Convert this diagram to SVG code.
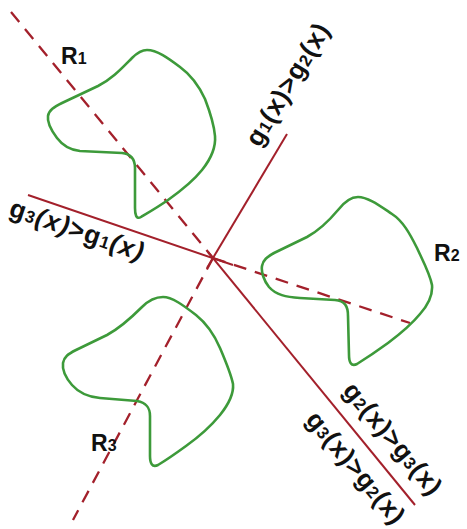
<svg xmlns="http://www.w3.org/2000/svg" width="467" height="529" viewBox="0 0 467 529">
<style>
.solid{stroke:#a3202b;stroke-width:2;fill:none}
.dash{stroke:#a3202b;stroke-width:2.3;fill:none;stroke-dasharray:13 9}
.region{stroke:#3d9a3a;stroke-width:2.6;fill:none;stroke-linejoin:round}
.lbl{font-family:"Liberation Sans",Arial,sans-serif;font-weight:bold;fill:#111;font-size:23px}
.lbl .sub{font-size:16px}
.fn{font-family:"Liberation Sans",Arial,sans-serif;font-weight:bold;fill:#111;font-size:26px}
.fn .sub{font-size:17px}
</style>
<rect width="467" height="529" fill="#fff"/>
<g id="connectors">
<line class="dash" x1="11" y1="12" x2="213" y2="258"/>
<line class="dash" x1="213" y1="258" x2="410" y2="323"/>
<line class="dash" x1="213" y1="258" x2="73" y2="520"/>
<line class="solid" x1="28" y1="195" x2="233" y2="265"/>
<line class="solid" x1="287" y1="134" x2="207" y2="268"/>
<line class="solid" x1="208" y1="252" x2="415" y2="505"/>
</g>
<g id="R1">
<path class="region" d="M147,50 C157,50 168,58 180,67 C191,75 199,86 205,99 C210,112 214,124 215,136 C216,148 210,160 202,170 C194,180 182,190 168,200 C158,207 146,214 141,217 C136,220 135,214 135,208 L135,168 C135,160 132,154 122,153 L80,151 C70,150 63,146 57,138 C51,130 47,122 48,116 C49,110 54,107 62,103 L98,86 C112,79 122,68 132,58 C137,53 142,50 147,50 Z"/>
<text class="lbl" x="61" y="64">R<tspan class="sub">1</tspan></text>
</g>
<g id="R2">
<path class="region" d="M358,197 C368,197 380,206 392,214 C403,221 410,234 417,248 C423,261 430,274 432,285 C433,296 428,305 420,314 C411,325 400,334 388,343 C377,351 365,359 357,364 C351,367 349,362 349,355 L348,316 C348,306 345,301 335,300 L300,298 C286,297 276,295 269,287 C264,281 261,272 262,266 C263,260 267,257 274,253 L307,237 C318,231 328,222 338,210 C345,201 351,197 358,197 Z"/>
<text class="lbl" x="434" y="261">R<tspan class="sub">2</tspan></text>
</g>
<g id="R3">
<path class="region" d="M163,297 C172,297 183,305 196,315 C206,323 214,334 220,348 C226,362 231,374 233,384 C234,395 228,405 220,415 C211,426 200,436 186,446 C175,454 163,462 158,465 C152,468 150,463 150,456 L150,416 C150,408 147,403 137,401 L100,398 C88,397 79,393 72,385 C66,378 62,370 63,363 C64,357 68,354 76,350 L107,335 C120,328 132,317 142,307 C149,300 156,297 163,297 Z"/>
<text class="lbl" x="91" y="451">R<tspan class="sub">3</tspan></text>
</g>
<g id="label-g3-g1">
<text class="fn" transform="translate(74,238) rotate(19)" text-anchor="middle" textLength="140" lengthAdjust="spacing">g<tspan class="sub">3</tspan><tspan font-style="italic">(x)</tspan>&gt;g<tspan class="sub">1</tspan><tspan font-style="italic">(x)</tspan></text>
</g>
<g id="label-g1-g2">
<text class="fn" transform="translate(295,89) rotate(-59)" text-anchor="middle" textLength="138" lengthAdjust="spacing">g<tspan class="sub">1</tspan>(x)&gt;g<tspan class="sub">2</tspan>(x)</text>
</g>
<g id="label-g2-g3">
<text class="fn" transform="translate(386,444) rotate(50)" text-anchor="middle" textLength="138" lengthAdjust="spacing">g<tspan class="sub">2</tspan>(x)&gt;g<tspan class="sub">3</tspan>(x)</text>
</g>
<g id="label-g3-g2">
<text class="fn" transform="translate(349,473) rotate(50)" text-anchor="middle" textLength="138" lengthAdjust="spacing">g<tspan class="sub">3</tspan>(x)&gt;g<tspan class="sub">2</tspan>(x)</text>
</g>
</svg>
